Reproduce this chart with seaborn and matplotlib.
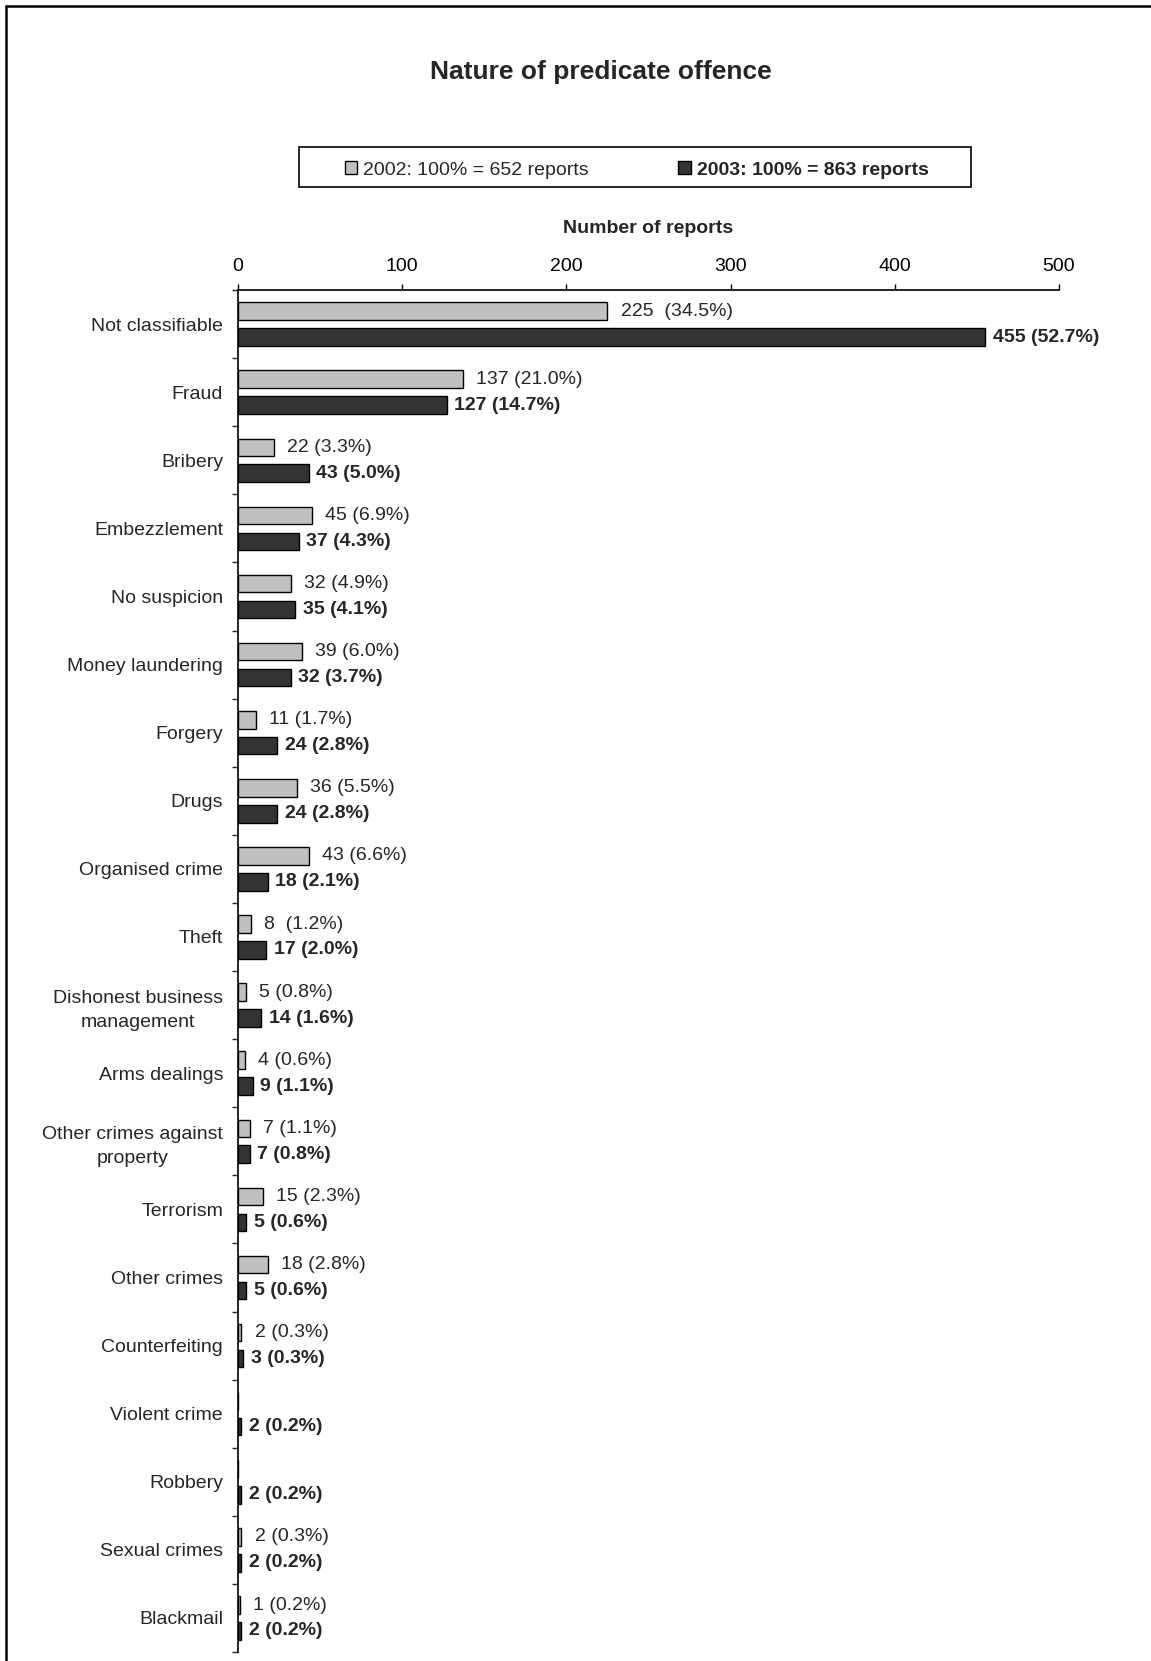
import matplotlib
matplotlib.use('Agg')
import matplotlib.pyplot as plt
from matplotlib.patches import Patch, Rectangle
from matplotlib.lines import Line2D
import seaborn as sns
import pandas as pd

categories = ['Not classifiable', 'Fraud', 'Bribery', 'Embezzlement', 'No suspicion',
              'Money laundering', 'Forgery', 'Drugs', 'Organised crime', 'Theft',
              'Dishonest business\nmanagement', 'Arms dealings',
              'Other crimes against\nproperty', 'Terrorism', 'Other crimes',
              'Counterfeiting', 'Violent crime', 'Robbery', 'Sexual crimes', 'Blackmail']

reports_2002 = [225, 137, 22, 45, 32, 39, 11, 36, 43, 8, 5, 4, 7, 15, 18, 2, 0, 0, 2, 1]
reports_2003 = [455, 127, 43, 37, 35, 32, 24, 24, 18, 17, 14, 9, 7, 5, 5, 3, 2, 2, 2, 2]
pct_2002 = [34.5, 21.0, 3.3, 6.9, 4.9, 6.0, 1.7, 5.5, 6.6, 1.2, 0.8, 0.6, 1.1, 2.3, 2.8, 0.3,
            None, None, 0.3, 0.2]
pct_2003 = [52.7, 14.7, 5.0, 4.3, 4.1, 3.7, 2.8, 2.8, 2.1, 2.0, 1.6, 1.1, 0.8, 0.6, 0.6, 0.3,
            0.2, 0.2, 0.2, 0.2]
wide_gap = ['Not classifiable', 'Theft']  # labels written with two spaces

series = ['2002: 100% = 652 reports', '2003: 100% = 863 reports']
colors = ['#c0c0c0', '#333333']

df = pd.DataFrame({
    'category': categories * 2,
    'reports': reports_2002 + reports_2003,
    'year': [series[0]] * len(categories) + [series[1]] * len(categories),
})

sns.set_style('white')
plt.rcParams['font.family'] = ['Liberation Sans', 'DejaVu Sans']
plt.rcParams['font.size'] = 14

fig = plt.figure(figsize=(11.51, 16.61), dpi=100)
ax = fig.add_axes([0.2068, 0.0054, 0.7133, 0.8200])

sns.barplot(data=df, y='category', x='reports', hue='year', order=categories,
            hue_order=series, palette=colors, orient='h', width=0.76, gap=0.32,
            edgecolor='black', linewidth=1.0, legend=False, ax=ax)

labels_2002 = []
for cat, v, p in zip(categories, reports_2002, pct_2002):
    if p is None:
        labels_2002.append('')
    else:
        sep = '  ' if cat in wide_gap else ' '
        labels_2002.append(f'{v}{sep}({p:.1f}%)')
labels_2003 = [f'{v} ({p:.1f}%)' for v, p in zip(reports_2003, pct_2003)]

ax.bar_label(ax.containers[0], labels=labels_2002, padding=9.5, fontsize=14)
ax.bar_label(ax.containers[1], labels=labels_2003, padding=5.5, fontsize=14,
             fontweight='bold')

ax.set_xlim(0, 500)
ax.set_xticks(range(0, 501, 100))
ax.xaxis.tick_top()
ax.xaxis.set_label_position('top')
ax.set_xlabel('Number of reports', fontweight='bold', fontsize=14, labelpad=18)
ax.set_ylabel('')
ax.tick_params(axis='x', direction='out', length=4.5, width=1, pad=6, labelsize=14,
               colors='black')
ax.tick_params(axis='y', which='major', length=0, pad=10.8, labelsize=14)
ax.set_yticks([i - 0.5 for i in range(len(categories) + 1)], minor=True)
ax.tick_params(axis='y', which='minor', direction='out', length=4.5, width=1, left=True)
for t in ax.get_yticklabels():
    t.set_multialignment('center')
    t.set_linespacing(1.55)

for s in ['right', 'bottom']:
    ax.spines[s].set_visible(False)
for s in ['top', 'left']:
    ax.spines[s].set_color('black')
    ax.spines[s].set_linewidth(1.2)

handles = [Patch(facecolor=c, edgecolor='black', linewidth=1) for c in colors]
leg = fig.legend(handles, series, loc='center', bbox_to_anchor=(0.553, 0.8977),
                 ncol=2, frameon=False, fontsize=14, handlelength=0.65,
                 handleheight=0.65, handletextpad=0.3, columnspacing=4.6)
leg.get_texts()[1].set_fontweight('bold')
fig.add_artist(Rectangle((299 / 1151, 1 - 187 / 1661), 672 / 1151, 40 / 1661,
                         transform=fig.transFigure, fill=False, edgecolor='black',
                         linewidth=1.2))

fig.text(601 / 1151, 1 - 72 / 1661, 'Nature of predicate offence', ha='center',
         va='center', fontsize=19, fontweight='bold')

# outer frame (only left and top edges fall inside the picture)
fx, fy = 5.5 / 1151, 1 - 5.5 / 1661
fig.add_artist(Line2D([fx, fx], [0, fy], transform=fig.transFigure, color='black', lw=1.8))
fig.add_artist(Line2D([fx, 1], [fy, fy], transform=fig.transFigure, color='black', lw=1.8))

fig.savefig('out.png', dpi=100)
